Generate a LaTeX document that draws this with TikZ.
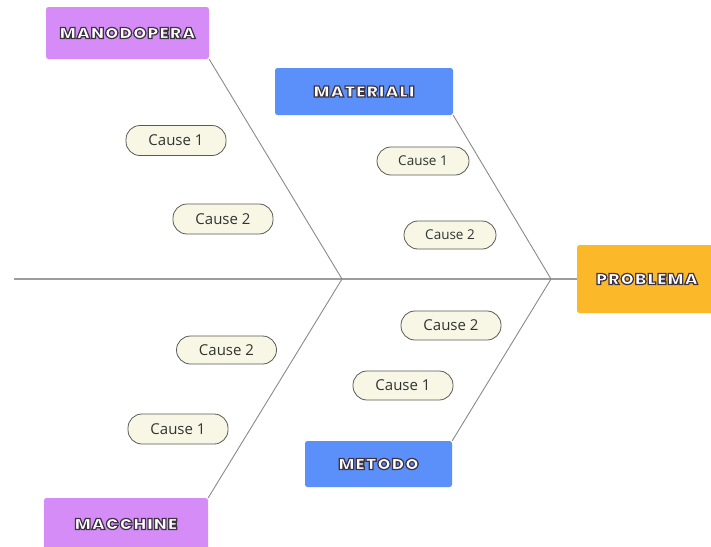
\documentclass[tikz,border=0pt]{standalone}
\usepackage{fontspec}
\newfontfamily\headfont[FakeBold=8,LetterSpace=6,FakeStretch=1.1]{Poppins Black}
\newfontfamily\causefont{Open Sans}
\definecolor{violetbox}{HTML}{D68CF7}
\definecolor{bluebox}{HTML}{5B8FF9}
\definecolor{orangebox}{HTML}{FBB829}
\definecolor{creamfill}{HTML}{F8F7E6}
\definecolor{pillline}{HTML}{5A5A55}
\definecolor{boneline}{HTML}{8A8A8A}
\tikzset{
  headbox/.style={draw=none, rounded corners=2.5pt, inner sep=0pt, font=\headfont\fontsize{15.5}{17}\selectfont},
  pill/.style={draw=pillline, line width=0.8pt, fill=creamfill, rounded corners=14pt, minimum width=100pt, minimum height=30pt, inner sep=0pt, font=\causefont\fontsize{15}{17}\selectfont, text=black!80},
  smallpill/.style={pill, minimum width=92pt, minimum height=28pt, font=\causefont\fontsize{13.5}{15}\selectfont},
  bone/.style={draw=boneline, line width=0.9pt},
  spine/.style={draw=boneline!85, line width=1.4pt}
}
\newcommand{\headtxt}[1]{\special{pdf:bcolor [1 1 1] [0.24 0.2 0.26]}#1\special{pdf:ecolor}}
\begin{document}
\begin{tikzpicture}[x=1pt,y=-1pt]
\useasboundingbox[fill=white] (0,0) rectangle (711,546);
% heads
\node[headbox, fill=violetbox, minimum width=163pt, minimum height=52pt] (mano) at (127.5,33) {\headtxt{MANODOPERA}};
\node[headbox, fill=bluebox, minimum width=178pt, minimum height=47pt] (mat) at (364,91.5) {\headtxt{MATERIALI}};
\node[headbox, fill=orangebox, minimum width=140pt, minimum height=68pt] (prob) at (647,279) {\headtxt{PROBLEMA}};
\node[headbox, fill=bluebox, minimum width=147pt, minimum height=46pt] (met) at (378.5,464) {\headtxt{METODO}};
\node[headbox, fill=violetbox, minimum width=164pt, minimum height=52pt] (mac) at (126,524) {\headtxt{MACCHINE}};
% joints
\coordinate (tail) at (14,279);
\coordinate (j1) at (342,279);
\coordinate (j2) at (551,279);
% spine and bones
\draw[spine] (tail) -- (prob.west);
\draw[bone] (mano.south east) -- (j1);
\draw[bone] (mac.north east) -- (j1);
\draw[bone] (mat.south east) -- (j2);
\draw[bone] (met.north east) -- (j2);
% causes
\node[pill] (c11) at (176,140.5) {Cause 1};
\node[pill] (c12) at (223,219) {Cause 2};
\node[smallpill] (c21) at (423,161) {Cause 1};
\node[smallpill] (c22) at (450,235) {Cause 2};
\node[pill, minimum height=28pt] (c32) at (226.5,350) {Cause 2};
\node[pill] (c31) at (178,429) {Cause 1};
\node[pill, minimum height=29pt] (c42) at (451,325.5) {Cause 2};
\node[pill, minimum height=29pt] (c41) at (403,385.5) {Cause 1};
\end{tikzpicture}
\end{document}
